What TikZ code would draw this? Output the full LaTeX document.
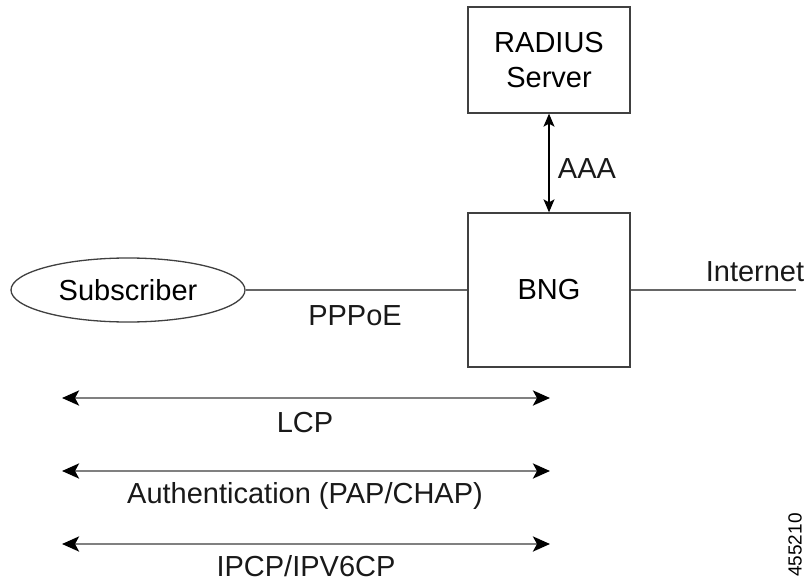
\documentclass[tikz,border=0pt]{standalone}
\usepackage{fontspec}
\setmainfont{Liberation Sans}
\usetikzlibrary{arrows.meta,shapes.geometric}
\begin{document}
\begin{tikzpicture}[x=1pt,y=-1pt,
  box/.style={draw=black!75,line width=1.3pt,inner sep=0pt,align=center,font=\fontsize{29}{35}\selectfont},
  lbl/.style={inner sep=0pt,font=\fontsize{29}{34}\selectfont,text=black!90},
  conn/.style={draw=black!60,line width=1.6pt},
  htip/.style={Stealth[length=17pt,width=15pt,inset=4pt,color=black,fill=black]},
  harrow/.style={draw=black!50,line width=2.8pt,{Stealth[length=17pt,width=15pt,inset=4pt,color=black,fill=black]}-{Stealth[length=17pt,width=15pt,inset=4pt,color=black,fill=black]}},
  varrow/.style={draw=black,line width=1.3pt,{Stealth[length=13pt,width=11pt,inset=3pt]}-{Stealth[length=13pt,width=11pt,inset=3pt]}}]
\useasboundingbox (0,0) rectangle (808,583);
% nodes
\node[box,minimum width=162pt,minimum height=106pt] (radius) at (549,60) {RADIUS\\Server};
\node[box,minimum width=162pt,minimum height=154pt] (bng) at (549,290) {BNG};
\node[box,ellipse,minimum width=234pt,minimum height=64pt] (sub) at (128,290) {Subscriber};
\coordinate (inet) at (796,290);
% connectors
\draw[conn] (sub.east) -- (bng.west);
\draw[conn] (bng.east) -- (inet);
\draw[varrow] (radius.south) -- (bng.north);
% labels
\node[lbl] (aaa) at (587,169) {AAA};
\node[lbl] (pppoe) at (355,316) {PPPoE};
\node[lbl] (inettext) at (755,272) {Internet};
% protocol arrows
\coordinate (l1a) at (62,398); \coordinate (l1b) at (550,398);
\coordinate (l2a) at (62,471); \coordinate (l2b) at (550,471);
\coordinate (l3a) at (62,544); \coordinate (l3b) at (550,544);
\draw[harrow] (l1a) -- (l1b);
\draw[harrow] (l2a) -- (l2b);
\draw[harrow] (l3a) -- (l3b);
\node[lbl] (lcp) at (305,423) {LCP};
\node[lbl] (auth) at (305,496) {Authentication (PAP/CHAP)};
\node[lbl] (ipcp) at (306,566) {IPCP/IPV6CP};
\node[inner sep=0pt,rotate=90,font=\fontsize{19}{22}\selectfont] (fig) at (795,545) {455210};
\end{tikzpicture}
\end{document}
